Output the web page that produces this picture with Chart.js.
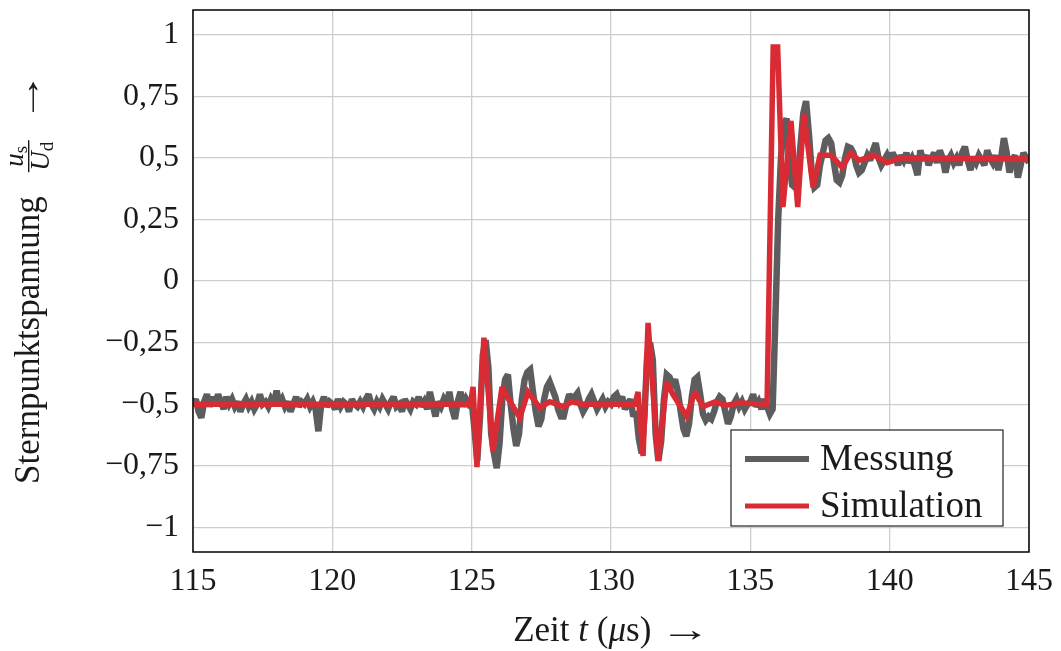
<!DOCTYPE html>
<html>
<head>
<meta charset="utf-8">
<script src="https://cdn.jsdelivr.net/npm/chart.js@4/dist/chart.umd.min.js"></script>
<style>
  body { margin: 0; background: #fff; }
  canvas { display: block; }
</style>
</head>
<body>
<canvas id="chart" width="1061" height="651"></canvas>
<script>
// measured signal, one sample every 0.1 µs from 115 µs (one row per µs)
const measStart = 115;
const measStep = 0.1;
const measurement = [
  -0.50, -0.48, -0.53, -0.555, -0.49, -0.46, -0.51, -0.47, -0.50, -0.46, // 115
  -0.49, -0.52, -0.47, -0.50, -0.48, -0.51, -0.49, -0.53, -0.50, -0.48, // 116
  -0.51, -0.49, -0.52, -0.50, -0.46, -0.50, -0.49, -0.51, -0.48, -0.50, // 117
  -0.445, -0.50, -0.48, -0.51, -0.49, -0.53, -0.50, -0.47, -0.51, -0.49, // 118
  -0.50, -0.48, -0.51, -0.49, -0.52, -0.61, -0.50, -0.47, -0.51, -0.49, // 119
  -0.50, -0.52, -0.48, -0.51, -0.49, -0.50, -0.53, -0.48, -0.50, -0.51, // 120
  -0.49, -0.51, -0.48, -0.46, -0.50, -0.52, -0.49, -0.51, -0.48, -0.50, // 121
  -0.52, -0.49, -0.47, -0.51, -0.50, -0.53, -0.48, -0.50, -0.52, -0.49, // 122
  -0.50, -0.47, -0.51, -0.49, -0.52, -0.45, -0.50, -0.55, -0.49, -0.51, // 123
  -0.48, -0.50, -0.45, -0.52, -0.56, -0.49, -0.45, -0.51, -0.48, -0.50, // 124
  -0.49, -0.60, -0.73, -0.55, -0.30, -0.24, -0.35, -0.62, -0.70, -0.76, // 125
  -0.66, -0.48, -0.40, -0.38, -0.50, -0.60, -0.67, -0.62, -0.48, -0.40, // 126
  -0.37, -0.36, -0.45, -0.53, -0.59, -0.56, -0.48, -0.43, -0.41, -0.44, // 127
  -0.47, -0.52, -0.55, -0.55, -0.50, -0.46, -0.48, -0.47, -0.455, -0.50, // 128
  -0.53, -0.51, -0.48, -0.46, -0.49, -0.52, -0.50, -0.48, -0.51, -0.49, // 129
  -0.50, -0.47, -0.46, -0.49, -0.47, -0.52, -0.50, -0.48, -0.55, -0.53, // 130
  -0.64, -0.70, -0.55, -0.30, -0.25, -0.32, -0.62, -0.73, -0.65, -0.48, // 131
  -0.38, -0.39, -0.42, -0.40, -0.45, -0.53, -0.60, -0.63, -0.58, -0.47, // 132
  -0.40, -0.39, -0.46, -0.54, -0.565, -0.55, -0.56, -0.53, -0.49, -0.47, // 133
  -0.48, -0.53, -0.58, -0.55, -0.50, -0.48, -0.51, -0.49, -0.52, -0.50, // 134
  -0.49, -0.46, -0.51, -0.49, -0.52, -0.48, -0.51, -0.54, -0.52, -0.15, // 135
  0.25, 0.50, 0.63, 0.66, 0.48, 0.39, 0.38, 0.40, 0.55, 0.68, // 136
  0.73, 0.60, 0.45, 0.38, 0.39, 0.47, 0.52, 0.57, 0.58, 0.56, // 137
  0.48, 0.41, 0.40, 0.43, 0.50, 0.545, 0.54, 0.52, 0.47, 0.44, // 138
  0.45, 0.48, 0.51, 0.49, 0.53, 0.56, 0.50, 0.47, 0.49, 0.51, // 139
  0.48, 0.52, 0.50, 0.47, 0.51, 0.49, 0.52, 0.48, 0.50, 0.47, // 140
  0.43, 0.53, 0.49, 0.51, 0.47, 0.50, 0.52, 0.48, 0.53, 0.50, // 141
  0.44, 0.49, 0.51, 0.48, 0.50, 0.47, 0.52, 0.545, 0.49, 0.45, // 142
  0.50, 0.48, 0.51, 0.49, 0.47, 0.53, 0.50, 0.48, 0.51, 0.45, // 143
  0.50, 0.58, 0.52, 0.44, 0.49, 0.51, 0.42, 0.47, 0.52, 0.50, // 144
  0.48                                                          // 145
];

// simulation, corner points of the curve
const simTime = [
  115, 124.95, 125.05, 125.19, 125.44, 125.76, 126.09, 126.3, 126.73, 127.02,
  127.45, 127.8, 128.3, 128.6, 129.0, 130.86, 130.97, 131.15, 131.33, 131.69,
  132.0, 132.22, 132.72, 133.0, 133.3, 133.75, 134.1, 134.6, 135.6, 135.82,
  135.98, 136.17, 136.46, 136.7, 136.92, 137.25, 137.5, 137.9, 138.3, 138.6,
  138.9, 139.45, 139.9, 140.4, 145
];
const simValue = [
  -0.5, -0.5, -0.43, -0.755, -0.23, -0.69, -0.43, -0.475, -0.555, -0.45,
  -0.515, -0.49, -0.51, -0.49, -0.5, -0.5, -0.45, -0.71, -0.17, -0.73,
  -0.41, -0.46, -0.55, -0.45, -0.51, -0.49, -0.505, -0.495, -0.5, 0.95,
  0.95, 0.30, 0.65, 0.30, 0.68, 0.38, 0.51, 0.51, 0.46, 0.52,
  0.49, 0.51, 0.48, 0.50, 0.495
];

const seriesNames = ["Messung", "Simulation"];
const seriesColors = ["#5d5d5f", "#d92b33"];
const xTicks = [115, 120, 125, 130, 135, 140, 145];
const yTicks = [-1, -0.75, -0.5, -0.25, 0, 0.25, 0.5, 0.75, 1];

const FONT = "'Liberation Serif', 'Times New Roman', serif";

function fmt(v) {
  return String(v).replace(".", ",").replace("-", "\u2212");
}

// a wider arrow, like the TeX \rightarrow
function drawArrow(ctx, x, y, size) {
  ctx.save();
  ctx.font = size + "px " + FONT;
  ctx.translate(x, y);
  ctx.scale(1.45, 1);
  ctx.fillText("\u2192", 0, 0);
  const w = ctx.measureText("\u2192").width * 1.45;
  ctx.restore();
  return w;
}

// sharp corners on the noisy line, but no very long miter tips
const miterPlugin = {
  id: "miter",
  beforeDatasetsDraw(chart) { chart.ctx.miterLimit = 2.5; },
  afterDatasetsDraw(chart) { chart.ctx.miterLimit = 10; },
};

const framePlugin = {
  id: "frame",
  afterDatasetsDraw(chart) {
    const { ctx, chartArea: a } = chart;
    ctx.save();
    ctx.strokeStyle = "#000";
    ctx.lineWidth = 1.5;
    ctx.strokeRect(a.left, a.top, a.right - a.left, a.bottom - a.top);
    ctx.restore();
  },
};

const legendPlugin = {
  id: "boxLegend",
  afterDraw(chart) {
    const { ctx } = chart;
    const x0 = 731, y0 = 430, w = 272, h = 96;
    ctx.save();
    ctx.fillStyle = "#fff";
    ctx.fillRect(x0, y0, w, h);
    ctx.strokeStyle = "#222";
    ctx.lineWidth = 1.2;
    ctx.strokeRect(x0, y0, w, h);
    ctx.font = "37px " + FONT;
    ctx.textBaseline = "alphabetic";
    chart.data.datasets.forEach((ds, i) => {
      const yl = 459 + i * 47;
      ctx.strokeStyle = ds.borderColor;
      ctx.lineWidth = i === 0 ? 6 : 5;
      ctx.beginPath();
      ctx.moveTo(745, yl);
      ctx.lineTo(809, yl);
      ctx.stroke();
      ctx.fillStyle = "#1a1a1a";
      ctx.fillText(ds.label, 820, yl + 11);
    });
    ctx.restore();
  },
};

const titlePlugin = {
  id: "axisTitles",
  afterDraw(chart) {
    const { ctx } = chart;
    ctx.save();
    ctx.fillStyle = "#1a1a1a";
    ctx.textBaseline = "alphabetic";
    const size = 35;

    // x title: Zeit t (µs) ->
    const parts = [
      ["Zeit ", ""], ["t", "italic "], [" (", ""], ["\u03bc", "italic "], ["s) ", ""],
    ];
    let total = 0;
    parts.forEach((p) => {
      ctx.font = p[1] + size + "px " + FONT;
      total += ctx.measureText(p[0]).width;
    });
    ctx.font = size + "px " + FONT;
    total += ctx.measureText("\u2192").width * 1.45;
    let x = 612 - total / 2;
    parts.forEach((p) => {
      ctx.font = p[1] + size + "px " + FONT;
      ctx.fillText(p[0], x, 641);
      x += ctx.measureText(p[0]).width;
    });
    drawArrow(ctx, x, 641, size);

    // y title, rotated: Sternpunktspannung u_s/U_d ->
    ctx.translate(39, 484);
    ctx.rotate(-Math.PI / 2);
    ctx.font = size + "px " + FONT;
    const main = "Sternpunktspannung";
    ctx.fillText(main, 0, 0);
    let px = ctx.measureText(main).width + 24;

    // fraction
    ctx.font = "italic 27px " + FONT;
    const uW = ctx.measureText("u").width;
    const UW = ctx.measureText("U").width;
    ctx.font = "19px " + FONT;
    const sW = ctx.measureText("s").width;
    const dW = ctx.measureText("d").width;
    const numW = uW + sW;
    const denW = UW + dW;
    const fw = Math.max(numW, denW) + 3;

    ctx.font = "italic 27px " + FONT;
    ctx.fillText("u", px + (fw - numW) / 2, -16);
    ctx.font = "19px " + FONT;
    ctx.fillText("s", px + (fw - numW) / 2 + uW, -12);
    ctx.fillRect(px, -11, fw, 1.4);
    ctx.font = "italic 27px " + FONT;
    ctx.fillText("U", px + (fw - denW) / 2, 10);
    ctx.font = "19px " + FONT;
    ctx.fillText("d", px + (fw - denW) / 2 + UW, 14);
    px += fw + 18;

    drawArrow(ctx, px, 0, size);
    ctx.restore();
  },
};

new Chart(document.getElementById("chart"), {
  type: "line",
  data: {
    datasets: [
      {
        label: seriesNames[0],
        data: measurement.map((v, i) => ({ x: measStart + i * measStep, y: v })),
        borderColor: seriesColors[0],
        borderWidth: 6.5,
        borderJoinStyle: "miter",
        pointRadius: 0,
        tension: 0,
        order: 2,
      },
      {
        label: seriesNames[1],
        data: simTime.map((t, i) => ({ x: t, y: simValue[i] })),
        borderColor: seriesColors[1],
        borderWidth: 5.5,
        borderJoinStyle: "miter",
        pointRadius: 0,
        tension: 0,
        order: 1,
      },
    ],
  },
  options: {
    responsive: false,
    animation: false,
    devicePixelRatio: 1,
    layout: { padding: { top: 10, right: 32, left: 0, bottom: 0 } },
    plugins: {
      legend: { display: false },
      tooltip: { enabled: false },
    },
    scales: {
      x: {
        type: "linear",
        min: 115,
        max: 145,
        afterBuildTicks: (axis) => { axis.ticks = xTicks.map((v) => ({ value: v })); },
        afterFit: (axis) => {
          axis.height = 99;
          axis.paddingLeft = 0;
          axis.paddingRight = 0;
        },
        grid: { color: "#cdcdcd", lineWidth: 1.3, drawTicks: false },
        border: { display: false },
        ticks: {
          color: "#1a1a1a",
          padding: 10,
          maxRotation: 0,
          font: { family: FONT, size: 32 },
          callback: (v) => fmt(v),
        },
      },
      y: {
        type: "linear",
        min: -1.1,
        max: 1.1,
        afterBuildTicks: (axis) => { axis.ticks = yTicks.map((v) => ({ value: v })); },
        afterFit: (axis) => {
          axis.width = 193;
          axis.paddingTop = 0;
          axis.paddingBottom = 0;
        },
        grid: { color: "#cdcdcd", lineWidth: 1.3, drawTicks: false },
        border: { display: false },
        ticks: {
          color: "#1a1a1a",
          padding: 14,
          font: { family: FONT, size: 32 },
          callback: (v) => fmt(v),
        },
      },
    },
  },
  plugins: [miterPlugin, framePlugin, legendPlugin, titlePlugin],
});
</script>
</body>
</html>
